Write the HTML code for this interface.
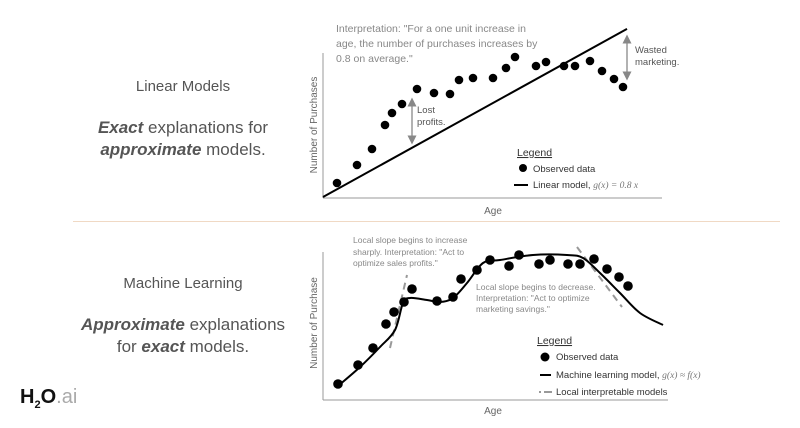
<!DOCTYPE html>
<html><head><meta charset="utf-8">
<style>
html,body{margin:0;padding:0;background:#fff;}
body{width:800px;height:428px;overflow:hidden;position:relative;font-family:"Liberation Sans",sans-serif;}
.lt{position:absolute;left:73px;width:220px;text-align:center;color:#555;}
</style></head>
<body>
<div class="lt" style="top:78px;font-size:15px;">Linear Models</div>
<div class="lt" style="top:117px;font-size:17px;line-height:22px;"><b><i>Exact</i></b> explanations for<br><b><i>approximate</i></b> models.</div>
<div class="lt" style="top:275px;font-size:15px;">Machine Learning</div>
<div class="lt" style="top:314px;font-size:17px;line-height:22px;"><b><i>Approximate</i></b> explanations<br>for <b><i>exact</i></b> models.</div>
<div style="position:absolute;left:20px;top:386px;font-size:20px;font-weight:bold;color:#111;">H<sub style="font-size:11px;">2</sub>O<span style="font-weight:normal;color:#aaa;">.ai</span></div>
<div style="position:absolute;left:73px;top:221px;width:707px;height:1px;background:#f0d9c4;"></div>
<svg id="s" width="800" height="428" style="position:absolute;left:0;top:0" font-family="Liberation Sans, sans-serif">
<defs><marker id="ah" markerWidth="6" markerHeight="6" refX="3" refY="3" orient="auto-start-reverse"><path d="M0,0 L6,3 L0,6 z" fill="#888"/></marker></defs>
<!-- top chart -->
<line x1="323" y1="53" x2="323" y2="198" stroke="#999"/>
<line x1="323" y1="198" x2="662" y2="198" stroke="#999"/>
<text x="317" y="125" transform="rotate(-90 317 125)" text-anchor="middle" font-size="10" fill="#666">Number of Purchases</text>
<text x="493" y="214" text-anchor="middle" font-size="10" fill="#666">Age</text>
<g font-size="10.5" fill="#888">
<text x="336" y="32">Interpretation: "For a one unit increase in</text>
<text x="336" y="47">age, the number of purchases increases by</text>
<text x="336" y="62">0.8 on average."</text></g>
<line x1="412" y1="102" x2="412" y2="140" stroke="#999" stroke-width="1.5" marker-start="url(#ah)" marker-end="url(#ah)"/>
<text x="417" y="113" font-size="9.5" fill="#555"><tspan x="417">Lost</tspan><tspan x="417" dy="12">profits.</tspan></text>
<line x1="627" y1="39" x2="627" y2="76" stroke="#999" stroke-width="1.5" marker-start="url(#ah)" marker-end="url(#ah)"/>
<text x="635" y="53" font-size="9.5" fill="#555"><tspan x="635">Wasted</tspan><tspan x="635" dy="12">marketing.</tspan></text>
<g id="top"></g>
<g font-size="9.5" fill="#333">
<text x="517" y="156" font-size="10.5" text-decoration="underline">Legend</text>
<circle cx="523" cy="168" r="4" fill="#000"/><text x="533" y="172">Observed data</text>
<line x1="514" y1="185" x2="528" y2="185" stroke="#000" stroke-width="2"/><text x="533" y="188">Linear model, <tspan font-family="Liberation Serif, serif" font-style="italic" fill="#777">g(x) = 0.8 x</tspan></text>
</g>
<!-- bottom chart -->
<line x1="323" y1="252" x2="323" y2="400" stroke="#999"/>
<line x1="323" y1="400" x2="668" y2="400" stroke="#999"/>
<text x="317" y="323" transform="rotate(-90 317 323)" text-anchor="middle" font-size="10" fill="#666">Number of Purchase</text>
<text x="493" y="414" text-anchor="middle" font-size="10" fill="#666">Age</text>
<g font-size="8.5" fill="#888">
<text x="353" y="243">Local slope begins to increase</text>
<text x="353" y="255">sharply. Interpretation: "Act to</text>
<text x="353" y="266">optimize sales profits."</text></g>
<g font-size="8.5" fill="#888">
<text x="476" y="290">Local slope begins to decrease.</text>
<text x="476" y="301">Interpretation: "Act to optimize</text>
<text x="476" y="312">marketing savings."</text></g>
<g id="bot"></g>
<g font-size="9.5" fill="#333">
<text x="537" y="344" font-size="10.5" text-decoration="underline">Legend</text>
<circle cx="545" cy="357" r="4.5" fill="#000"/><text x="556" y="360">Observed data</text>
<line x1="540" y1="375" x2="551" y2="375" stroke="#000" stroke-width="2"/><text x="556" y="378">Machine learning model, <tspan font-family="Liberation Serif, serif" font-style="italic" fill="#777">g(x) ≈ f(x)</tspan></text>
<line x1="539" y1="392" x2="552" y2="392" stroke="#999" stroke-width="2" stroke-dasharray="2,3,7,0"/><text x="556" y="395">Local interpretable models</text>
</g>
</svg>
<script>
const topAges=[1.4,3.4,4.9,6.2,6.9,7.9,9.4,11.1,12.7,13.6,15,17,18.3,19.2,21.3,22.3,24.1,25.2,26.7,27.9,29.1,30];
const topVals=[1.4,3.2,4.8,7.2,8.4,9.3,10.8,10.4,10.3,11.7,11.9,11.9,12.9,14,13.1,13.5,13.1,13.1,13.6,12.6,11.8,11];
const slope=0.553;
const lineAges=[0,30.4];
const botAges=[1.5,3.5,5,6.3,7.1,8.1,8.9,11.4,13,13.8,15.4,16.7,18.6,19.6,21.6,22.7,24.5,25.7,27.1,28.4,29.6,30.5];
const botVals=[1.5,3.4,5.1,7.5,8.7,9.7,11,9.8,10.2,12,12.9,13.9,13.3,14.4,13.5,13.9,13.5,13.5,14,13,12.2,11.3];
const curveAges=[1.5,3.7,5.7,7.2,8,8.7,10.4,11.7,13,14.4,16,17.7,21,24.4,26,27.7,29.7,31.7,34];
const curveVals=[1.3,3.2,5.2,6.9,9.6,10.1,9.9,9.7,10.1,11.6,13.6,13.9,14.4,14.4,14.1,12.6,10.6,8.6,7.4];
const localAges=[[6.7,8.4],[25.4,29.9]];
const localVals=[[5.1,12.4],[15.2,9.2]];
const NS='http://www.w3.org/2000/svg';
const xT=a=>323+a*10, yT=v=>197-v*10;
const xB=a=>323+a*10, yB=v=>399-v*10;
function mk(g,tag,at){const e=document.createElementNS(NS,tag);for(const k in at)e.setAttribute(k,at[k]);g.appendChild(e);return e;}
const gt=document.getElementById('top'), gb=document.getElementById('bot');
const ln=mk(gt,'line',{x1:xT(lineAges[0]),y1:yT(lineAges[0]*slope),x2:xT(lineAges[1]),y2:yT(lineAges[1]*slope),stroke:'#000','stroke-width':2});


topAges.forEach((a,i)=>{const c=mk(gt,'circle',{cx:xT(a),cy:yT(topVals[i]),r:4.3,fill:'#000'});

});
localAges.forEach((as,i)=>{const l=mk(gb,'line',{x1:xB(as[0]),y1:yB(localVals[i][0]),x2:xB(as[1]),y2:yB(localVals[i][1]),stroke:'#999','stroke-width':2,'stroke-dasharray':'7,5'});

});
const P=curveAges.map((a,i)=>[xB(a),yB(curveVals[i])]);
let d='M'+P[0][0]+','+P[0][1];
for(let i=0;i<P.length-1;i++){const p0=P[i-1]||P[i],p1=P[i],p2=P[i+1],p3=P[i+2]||p2;
d+=' C'+(p1[0]+(p2[0]-p0[0])/6)+','+(p1[1]+(p2[1]-p0[1])/6)+' '+(p2[0]-(p3[0]-p1[0])/6)+','+(p2[1]-(p3[1]-p1[1])/6)+' '+p2[0]+','+p2[1];}
const cv=mk(gb,'path',{d:d,fill:'none',stroke:'#000','stroke-width':2});


botAges.forEach((a,i)=>{const c=mk(gb,'circle',{cx:xB(a),cy:yB(botVals[i]),r:4.8,fill:'#000'});

});
</script>
</body></html>
